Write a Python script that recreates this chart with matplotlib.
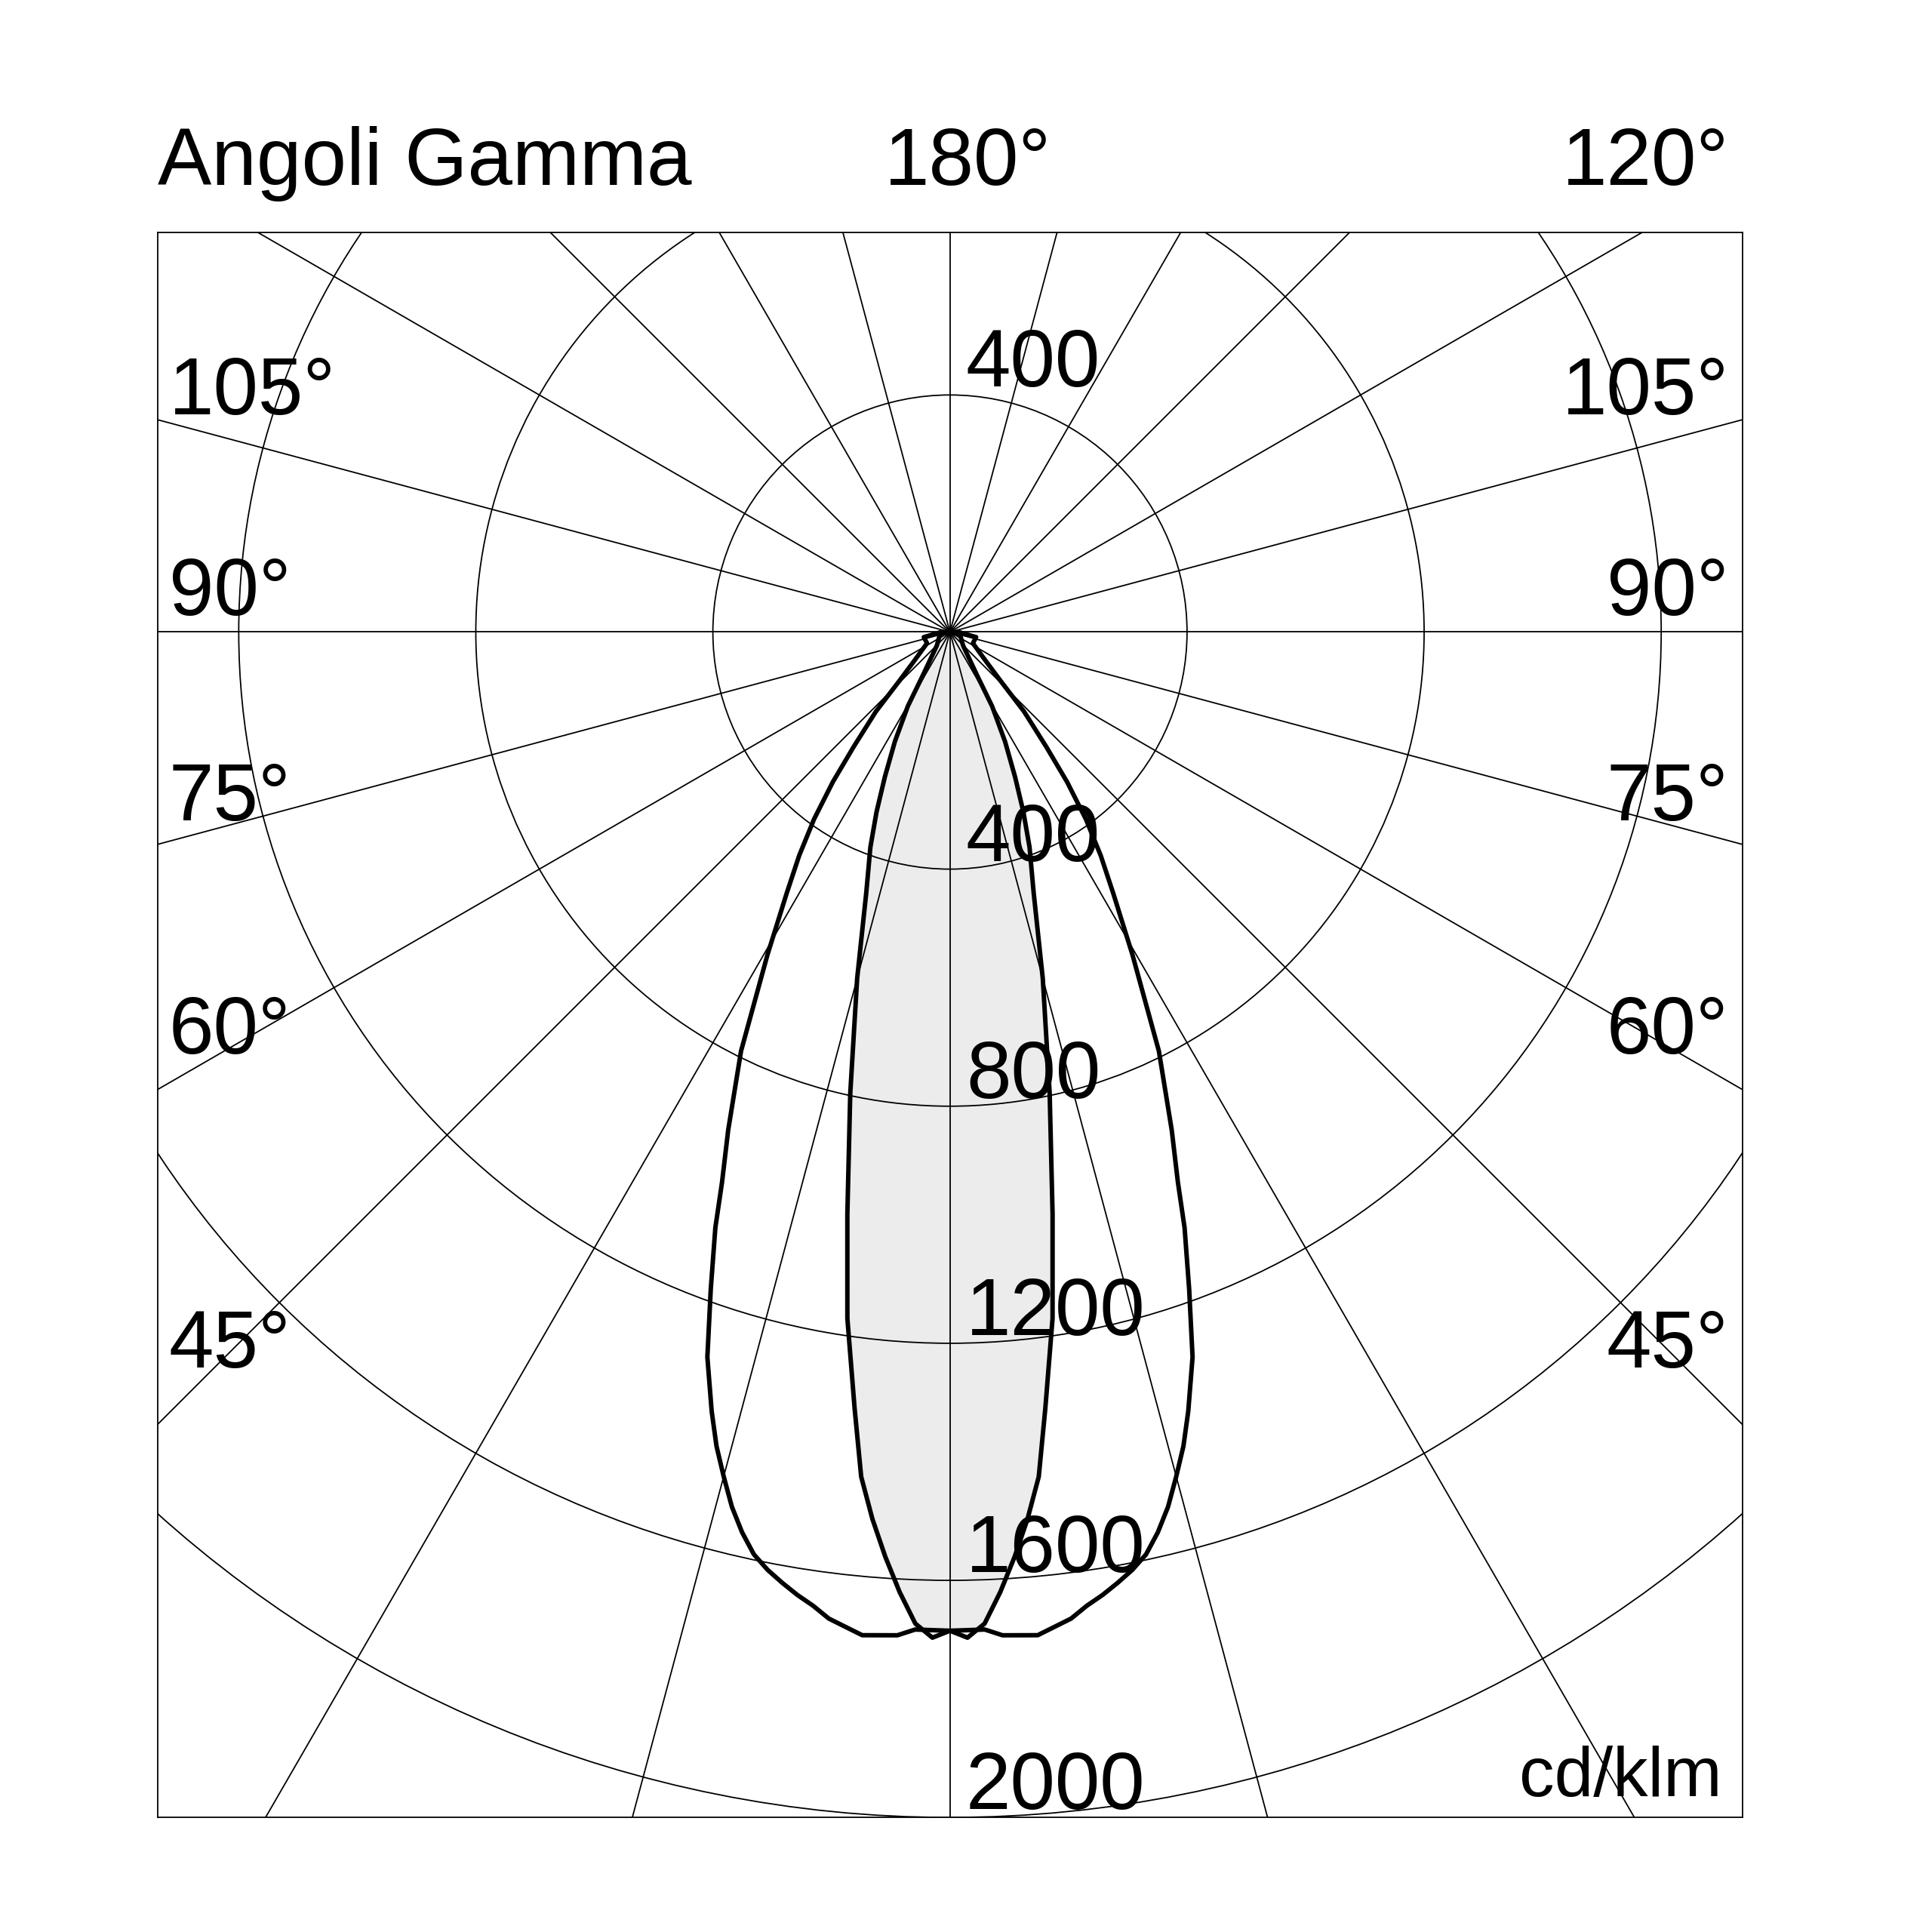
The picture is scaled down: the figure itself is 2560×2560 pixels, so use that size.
import numpy as np
import matplotlib
matplotlib.use('Agg')
import matplotlib.pyplot as plt
from matplotlib.patches import Circle

plt.rcParams['font.family'] = ['Liberation Sans', 'DejaVu Sans']

# Data: gamma angle (deg from nadir) and intensity (cd/klm), symmetric curves
gamma_wide = [0, 2, 3, 5, 7, 8, 9, 10, 11, 12, 13, 14, 15, 16, 17, 18.5, 20, 21.5,
              22.5, 24, 26.5, 29.5, 32, 34, 36, 38, 40, 43, 46, 51, 64, 79, 88]
int_wide = [1685, 1684, 1695, 1699, 1677, 1659, 1645, 1629, 1612, 1591, 1559, 1521,
            1475, 1429, 1375, 1290, 1180, 1080, 1005, 920, 790, 625, 520, 455, 390,
            321, 253, 183, 119, 78, 43, 45, 17]

gamma_narrow = [0, 1, 2, 3, 4, 5, 6, 7, 8.5, 10, 12.2, 15, 17.8, 20.3, 22.2, 24.2,
                26.7, 29.6, 32, 44, 79]
int_narrow = [1685, 1697, 1674, 1622, 1564, 1502, 1433, 1320, 1171, 997, 796, 605,
              462, 387, 328, 268, 207, 144, 87, 32, 17]

rings = [400, 800, 1200, 1600, 2000]
ring_labels = ['400', '800', '1200', '1600', '2000']

side_labels = ['105°', '90°', '75°', '60°', '45°']
side_label_y = [367, 29, -318, -711, -1241]


def closed_curve(gam, inten):
    g = np.radians(np.array(gam, dtype=float))
    r = np.array(inten, dtype=float)
    # left half from top down to nadir, then right half back up
    xl = -r[::-1] * np.sin(g[::-1])
    yl = -r[::-1] * np.cos(g[::-1])
    xr = r * np.sin(g)
    yr = -r * np.cos(g)
    x = np.concatenate([[0], xl, xr[1:], [0]])
    y = np.concatenate([[0], yl, yr[1:], [0]])
    return x, y


fig = plt.figure(figsize=(25.6, 25.6), dpi=100)
ax = fig.add_axes([0.0816, 0.0593, 0.8202, 0.8202])
ax.set_xlim(-1336.8, 1336.8)
ax.set_ylim(-2000, 673.6)
ax.set_aspect('equal')
ax.set_xticks([])
ax.set_yticks([])
for sp in ax.spines.values():
    sp.set_linewidth(1.3)

# polar grid
for r in rings:
    ax.add_patch(Circle((0, 0), r, fill=False, lw=1.3, color='black', zorder=2))
for a in range(0, 360, 15):
    t = np.radians(a)
    ax.plot([0, 4000 * np.sin(t)], [0, -4000 * np.cos(t)], color='black', lw=1.3, zorder=2)

# curves
xn, yn = closed_curve(gamma_narrow, int_narrow)
ax.fill(xn, yn, color='#ececec', zorder=1, lw=0)
ax.plot(xn, yn, color='black', lw=4.3, zorder=3, solid_joinstyle='round')
xw, yw = closed_curve(gamma_wide, int_wide)
ax.plot(xw, yw, color='black', lw=4.3, zorder=3, solid_joinstyle='round')

fs = 77
# ring labels
ax.text(27, 400 + 14, '400', fontsize=fs, ha='left', va='baseline', zorder=4)
for r, lab in zip(rings, ring_labels):
    ax.text(27, -r + 14, lab, fontsize=fs, ha='left', va='baseline', zorder=4)

# side angle labels
for lab, y in zip(side_labels, side_label_y):
    ax.text(-1318, y, lab, fontsize=fs, ha='left', va='baseline', zorder=4)
    ax.text(1314, y, lab, fontsize=fs, ha='right', va='baseline', zorder=4)

ax.text(1303, -1964, 'cd/klm', fontsize=67, ha='right', va='baseline', zorder=4)

# titles above the box
fig.text(0.0816, 0.9043, 'Angoli Gamma', fontsize=fs, ha='left', va='baseline')
fig.text(0.4578, 0.9043, '180°', fontsize=fs, ha='left', va='baseline')
fig.text(0.895, 0.9043, '120°', fontsize=fs, ha='right', va='baseline')

fig.savefig('out.png', dpi=100, facecolor='white')
